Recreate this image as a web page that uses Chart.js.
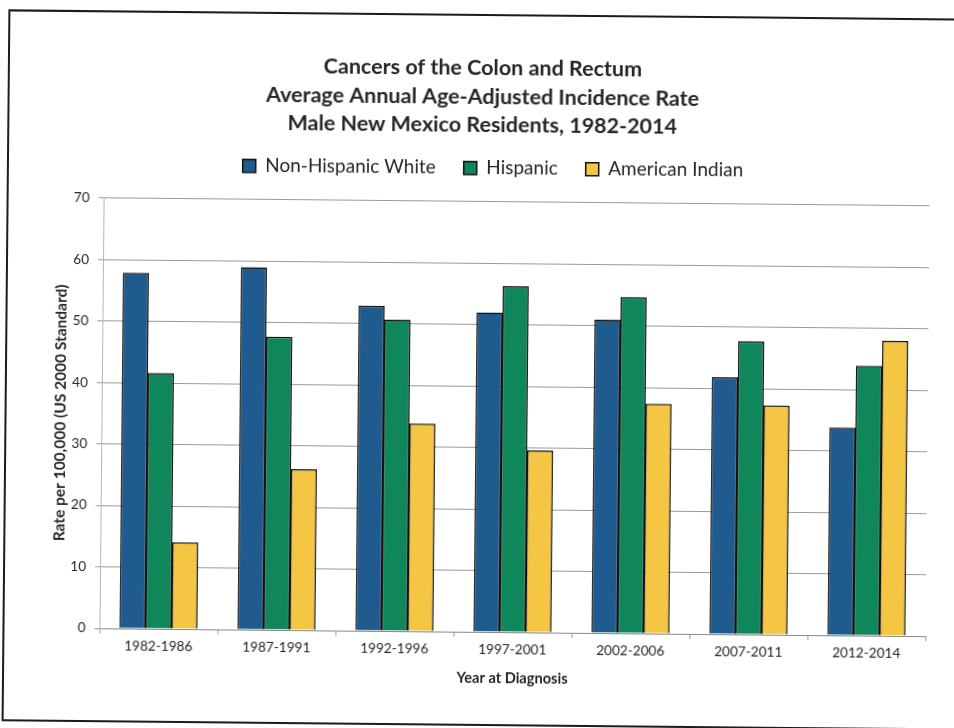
<!DOCTYPE html>
<html>
<head>
<meta charset="utf-8">
<script src="https://cdn.jsdelivr.net/npm/chart.js@4.4.1/dist/chart.umd.min.js"></script>
<style>
  html, body { margin: 0; padding: 0; background: #fff; width: 954px; height: 728px; overflow: hidden; }
  #frame {
    position: absolute; left: 5px; top: 14px;
    width: 966px; height: 708px;
    border: 2px solid #1c1c1c;
    background: #fff;
    transform: rotate(0.55deg);
    transform-origin: 485px 354px;
  }
  #frame canvas { display: block; }
</style>
</head>
<body>
<div id="frame"><canvas id="chart" width="966" height="704"></canvas></div>
<script>
const periods = ["1982-1986", "1987-1991", "1992-1996", "1997-2001", "2002-2006", "2007-2011", "2012-2014"];
const nonHispanicWhite = [57.9, 59.0, 52.9, 52.0, 51.0, 41.8, 33.8];
const hispanic = [41.6, 47.7, 50.7, 56.3, 54.7, 47.7, 43.9];
const americanIndian = [14.1, 26.2, 33.8, 29.6, 37.4, 37.3, 48.0];
const titleLines = [
  "Cancers of the Colon and Rectum",
  "Average Annual Age-Adjusted Incidence Rate",
  "Male New Mexico Residents, 1982-2014"
];

const FONT = "Lato, 'Open Sans', sans-serif";
const INK = "#262626";
const GRID = "#9a9a9a";

// a bit more room under the legend, and nudge it right of the title's centre
const legendSpacing = {
  id: "legendSpacing",
  beforeInit(chart) {
    const fit = chart.legend.fit;
    chart.legend.fit = function () {
      fit.call(this);
      this.height += 14;
    };
  },
  afterLayout(chart) {
    chart.legend.left += 11;
    chart.legend.right += 11;
  }
};

const bar = (label, data, color) => ({
  label,
  data,
  backgroundColor: color,
  borderColor: "#111",
  borderWidth: 1.5,
  borderSkipped: "bottom",
  categoryPercentage: 0.66,
  barPercentage: 1.0
});

new Chart(document.getElementById("chart"), {
  type: "bar",
  data: {
    labels: periods,
    datasets: [
      bar("Non-Hispanic White", nonHispanicWhite, "#1f5b8e"),
      bar("Hispanic", hispanic, "#10875a"),
      bar("American Indian", americanIndian, "#f4c644")
    ]
  },
  plugins: [legendSpacing],
  options: {
    responsive: false,
    animation: false,
    layout: { padding: { left: 25, right: 45, top: 0, bottom: 28 } },
    plugins: {
      tooltip: { enabled: false },
      title: {
        display: true,
        text: titleLines,
        color: INK,
        font: { family: FONT, size: 21.5, weight: "bold", lineHeight: 1.33 },
        padding: { top: 38, bottom: -9 }
      },
      legend: {
        position: "top",
        labels: {
          color: INK,
          font: { family: FONT, size: 19 },
          boxWidth: 13,
          boxHeight: 13,
          padding: 28
        }
      }
    },
    scales: {
      x: {
        grid: { drawOnChartArea: false, drawTicks: true, tickLength: 5, color: GRID, offset: true },
        border: { display: true, color: "#888" },
        ticks: { color: INK, font: { family: FONT, size: 13.6 }, padding: 4, maxRotation: 0 },
        title: {
          display: true,
          text: "Year at Diagnosis",
          color: INK,
          font: { family: FONT, size: 14.6, weight: "bold" },
          padding: { top: 0, bottom: 5 }
        },
        afterFit: (s) => { s.height = 60; }
      },
      y: {
        min: 0,
        max: 70,
        grid: { color: GRID, tickLength: 5 },
        border: { display: true, color: "#b5b5b5" },
        ticks: { stepSize: 10, color: INK, font: { family: FONT, size: 13.5 }, padding: 9 },
        title: {
          display: true,
          text: "Rate per 100,000 (US 2000 Standard)",
          color: INK,
          font: { family: FONT, size: 15.5, weight: "bold" },
          padding: { top: 20, bottom: 0 }
        },
        afterFit: (s) => { s.width = 70; }
      }
    }
  }
});
</script>
</body>
</html>
